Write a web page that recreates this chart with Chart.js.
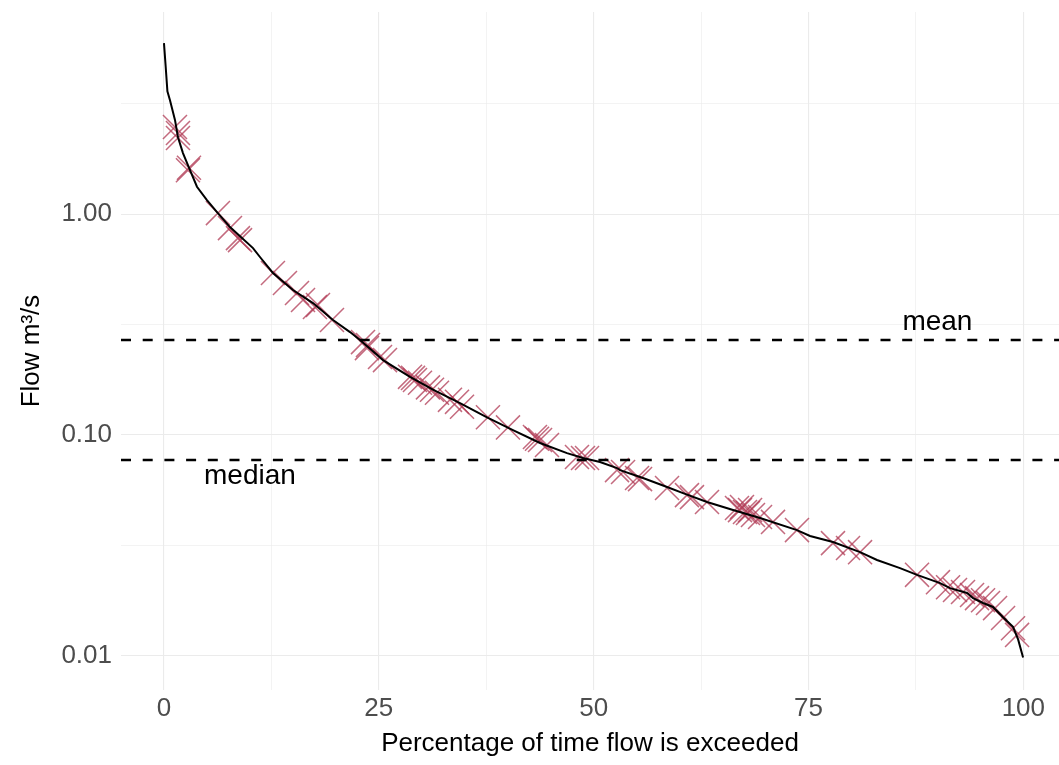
<html>
<head>
    <meta charset="UTF-8">
    <title>Flow duration curve</title>
    <style>
        body { margin: 0; background: #ffffff; overflow: hidden; }
    </style>
</head>
<body>
    <canvas id="fdcChart" width="1059" height="765"></canvas>
    <script src="https://cdn.jsdelivr.net/npm/chart.js"></script>
    <script>
        // flow duration curve (percentage exceeded vs flow)
        const curveX = [0, 0.2, 0.4, 0.7, 1.28, 1.63, 2.21, 3.03, 3.84, 5.0, 6.17, 7.68, 10.36, 11.17, 12.68, 15.01, 17.34, 19.67, 21.65,
            22.81, 25.49, 28.63, 31.3, 34.45, 37.59, 40.61, 43.76, 46.9, 48.76, 50.74, 52.72, 53.07, 55.74, 58.54, 60.4, 63.19, 66.22,
            69.36, 73.66, 75.18, 77.85, 81.0, 82.97, 85.65, 87.63, 90.31, 91.47, 93.45, 94.15, 95.31, 96.47, 97.64, 98.8, 99.4, 99.97];
        const curveY = [5.95, 4.65, 3.6, 3.28, 2.67, 2.23, 1.89, 1.58, 1.33, 1.157, 1.02, 0.873, 0.701, 0.639, 0.541, 0.453, 0.395, 0.331, 0.292,
            0.269, 0.218, 0.183, 0.160, 0.139, 0.120, 0.105, 0.0918, 0.0826, 0.0785, 0.0753, 0.0707, 0.0692, 0.0637, 0.058, 0.0544, 0.0496, 0.0456,
            0.0420, 0.0370, 0.0348, 0.0327, 0.0294, 0.0271, 0.0249, 0.0232, 0.0213, 0.0202, 0.0192, 0.0182, 0.0173, 0.0166, 0.0149, 0.0135, 0.0118, 0.0098];

        // sampled observations (the crosses)
        const sampleX = [1.28, 1.63, 1.63, 2.91, 2.79, 6.28, 7.68, 8.61, 8.85, 12.68, 14.08, 15.48, 16.18, 17.57, 17.92, 19.55,
            23.16, 23.74, 23.62, 25.14, 25.72, 28.63, 28.98, 29.21, 29.79, 30.72, 31.19, 31.77, 33.28, 34.1, 34.68, 37.7, 40.03,
            43.17, 43.76, 43.41, 44.57, 48.06, 48.76, 49.23, 52.72, 53.42, 55.05, 55.4, 58.54, 60.86, 61.44, 63.19,
            66.68, 67.03, 67.26, 67.61, 67.96, 68.2, 68.54, 69.36, 70.87, 73.66, 77.85, 79.6, 81.0,
            87.63, 90.07, 91.24, 92.05, 92.98, 94.03, 94.61, 95.31, 95.89, 96.71, 97.64, 98.8, 99.27];
        const sampleY = [2.48, 2.33, 2.21, 1.62, 1.58, 1.01, 0.864, 0.778, 0.762, 0.541, 0.487, 0.439, 0.408, 0.379, 0.387, 0.331,
            0.263, 0.255, 0.247, 0.225, 0.218, 0.183, 0.181, 0.177, 0.172, 0.164, 0.160, 0.155, 0.144, 0.141, 0.134, 0.120, 0.108,
            0.0977, 0.0947, 0.096, 0.0899, 0.0793, 0.0785, 0.0785, 0.0692, 0.0678, 0.0637, 0.0630, 0.0574, 0.0533, 0.0522, 0.0496,
            0.0466, 0.0456, 0.0471, 0.0447, 0.0442, 0.0456, 0.0433, 0.0424, 0.0403, 0.0370, 0.0323, 0.0307, 0.0294,
            0.0232, 0.0215, 0.0204, 0.0198, 0.0194, 0.0188, 0.0182, 0.0178, 0.0173, 0.0164, 0.0148, 0.0133, 0.0124];

        const meanFlow = 0.269;
        const medianFlow = 0.0769;
        const labelText = ['mean', 'median'];
        const labelX = [90, 10];
        const labelY = [0.325, 0.065];

        const xMajorTicks = [0, 25, 50, 75, 100];
        const xMinorTicks = [12.5, 37.5, 62.5, 87.5];
        const yMajorTicks = [0.01, 0.1, 1];
        const yMajorLabels = ['0.01', '0.10', '1.00'];
        const yMinorTicks = [0.0316, 0.316, 3.16];

        const axisFont = "'Liberation Sans', Arial, sans-serif";
        const gridColor = (c) => '#ebebeb';
        const gridWidth = (list) => (c) => (c.tick && list.includes(c.tick.value) ? 1.1 : 0.6);
        // keep the panel exactly where the axis boxes say
        const noPad = (s) => { s.paddingLeft = 0; s.paddingRight = 0; s.paddingTop = 0; s.paddingBottom = 0; };

        // hlines + text labels, placed through the scales
        const refLines = {
            id: 'refLines',
            afterDatasetsDraw(chart) {
                const ctx = chart.ctx, a = chart.chartArea;
                const xs = chart.scales.x, ys = chart.scales.y;
                ctx.save();
                ctx.strokeStyle = '#000000';
                ctx.lineWidth = 2.4;
                ctx.setLineDash([10, 11.7]);
                [meanFlow, medianFlow].forEach(v => {
                    const py = ys.getPixelForValue(v);
                    ctx.beginPath();
                    ctx.moveTo(a.left, py);
                    ctx.lineTo(a.right, py);
                    ctx.stroke();
                });
                ctx.setLineDash([]);
                ctx.fillStyle = '#000000';
                ctx.font = "28px 'Liberation Sans', Arial, sans-serif";
                ctx.textAlign = 'center';
                ctx.textBaseline = 'middle';
                for (let i = 0; i < labelText.length; i++) {
                    ctx.fillText(labelText[i], xs.getPixelForValue(labelX[i]), ys.getPixelForValue(labelY[i]));
                }
                ctx.restore();
            }
        };

        const ctx = document.getElementById('fdcChart').getContext('2d');
        const fdcChart = new Chart(ctx, {
            data: {
                datasets: [{
                    type: 'line',
                    label: 'FDC',
                    data: curveX.map((x, i) => ({ x: x, y: curveY[i] })),
                    borderColor: '#000000',
                    borderWidth: 2,
                    pointRadius: 0,
                    tension: 0,
                    fill: false
                }, {
                    type: 'scatter',
                    label: 'samples',
                    data: sampleX.map((x, i) => ({ x: x, y: sampleY[i] })),
                    pointStyle: 'crossRot',
                    pointRadius: 17,
                    borderColor: 'rgba(176, 58, 84, 0.75)',
                    backgroundColor: 'rgba(176, 58, 84, 0.75)',
                    borderWidth: 1.5
                }]
            },
            options: {
                responsive: false,
                animation: false,
                devicePixelRatio: 1,
                layout: { autoPadding: false, padding: { top: 12, right: 0, left: 0, bottom: 0 } },
                plugins: {
                    legend: { display: false },
                    tooltip: { enabled: false }
                },
                scales: {
                    x: {
                        type: 'linear',
                        min: -5,
                        max: 104.15,
                        afterBuildTicks: s => { s.ticks = xMajorTicks.concat(xMinorTicks).sort((a, b) => a - b).map(v => ({ value: v })); },
                        afterFit: s => { s.height = 75; noPad(s); },
                        border: { display: false },
                        grid: { color: gridColor, lineWidth: gridWidth(xMajorTicks), drawTicks: false },
                        ticks: {
                            autoSkip: false,
                            maxRotation: 0,
                            padding: 3,
                            color: '#4d4d4d',
                            font: { family: axisFont, size: 26 },
                            callback: v => (xMajorTicks.includes(v) ? String(v) : '')
                        },
                        title: {
                            display: true,
                            text: 'Percentage of time flow is exceeded',
                            color: '#000000',
                            font: { family: axisFont, size: 26 },
                            padding: { top: 0, bottom: 6 }
                        }
                    },
                    y: {
                        type: 'logarithmic',
                        min: 0.00698,
                        max: 8.23,
                        afterBuildTicks: s => { s.ticks = yMajorTicks.concat(yMinorTicks).sort((a, b) => a - b).map(v => ({ value: v })); },
                        afterFit: s => { s.width = 121; noPad(s); },
                        border: { display: false },
                        grid: { color: gridColor, lineWidth: gridWidth(yMajorTicks), drawTicks: false },
                        ticks: {
                            autoSkip: false,
                            padding: 9,
                            color: '#4d4d4d',
                            font: { family: axisFont, size: 26 },
                            callback: v => { const k = yMajorTicks.indexOf(v); return k >= 0 ? yMajorLabels[k] : ''; }
                        },
                        title: {
                            display: true,
                            text: 'Flow m³/s',
                            color: '#000000',
                            font: { family: axisFont, size: 26 },
                            padding: { top: 16, bottom: 0 }
                        }
                    }
                }
            },
            plugins: [refLines]
        });
    </script>
</body>
</html>
